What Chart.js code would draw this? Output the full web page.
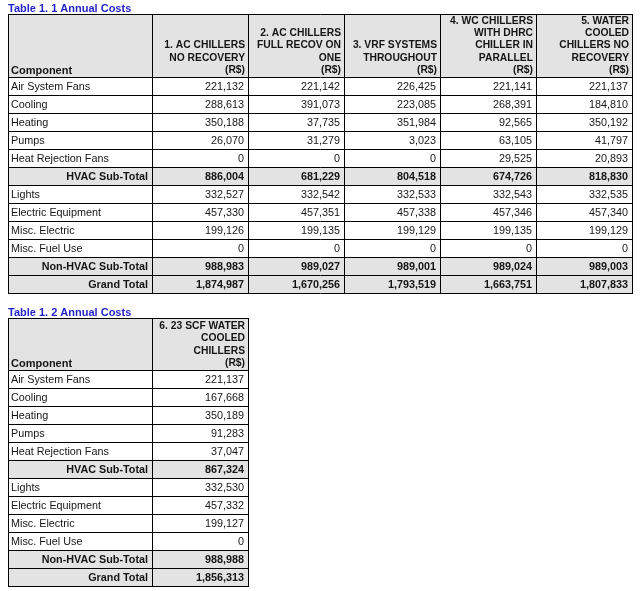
<!DOCTYPE html>
<html><head><meta charset="utf-8">
<script src="https://cdn.jsdelivr.net/npm/chart.js@4.4.1/dist/chart.umd.min.js"></script>
<style>
html,body{margin:0;padding:0;background:#fff;width:640px;height:591px;overflow:hidden;}
#c1{position:absolute;left:0;top:0;}
#c2{position:absolute;left:0;top:304px;}
</style></head><body>
<canvas id="c1" width="640" height="300"></canvas>
<canvas id="c2" width="640" height="287"></canvas>
<script>
// ---------- data ----------
const components = ['Air System Fans','Cooling','Heating','Pumps','Heat Rejection Fans','HVAC Sub-Total',
  'Lights','Electric Equipment','Misc. Electric','Misc. Fuel Use','Non-HVAC Sub-Total','Grand Total'];
const totalRows = ['HVAC Sub-Total','Non-HVAC Sub-Total','Grand Total'];
const firstColHeader = 'Component';
const table1Title = 'Table 1. 1 Annual Costs';
const table2Title = 'Table 1. 2 Annual Costs';

const table1Headers = [
  ['1. AC CHILLERS','NO RECOVERY','(R$)'],
  ['2. AC CHILLERS','FULL RECOV ON','ONE','(R$)'],
  ['3. VRF SYSTEMS','THROUGHOUT','(R$)'],
  ['4. WC CHILLERS','WITH DHRC','CHILLER IN','PARALLEL','(R$)'],
  ['5. WATER','COOLED','CHILLERS NO','RECOVERY','(R$)']
];
const table2Headers = [
  ['6. 23 SCF WATER','COOLED','CHILLERS','(R$)']
];

const acChillersNoRecovery   = [221132, 288613, 350188, 26070, 0, 886004, 332527, 457330, 199126, 0, 988983, 1874987];
const acChillersFullRecov    = [221142, 391073, 37735, 31279, 0, 681229, 332542, 457351, 199135, 0, 989027, 1670256];
const vrfSystemsThroughout   = [226425, 223085, 351984, 3023, 0, 804518, 332533, 457338, 199129, 0, 989001, 1793519];
const wcChillersDhrc         = [221141, 268391, 92565, 63105, 29525, 674726, 332543, 457346, 199135, 0, 989024, 1663751];
const waterCooledNoRecovery  = [221137, 184810, 350192, 41797, 20893, 818830, 332535, 457340, 199129, 0, 989003, 1807833];
const scfWaterCooledChillers = [221137, 167668, 350189, 91283, 37047, 867324, 332530, 457332, 199127, 0, 988988, 1856313];

// ---------- styles ----------
const FONT = '"Liberation Sans", Arial, sans-serif';
const FILL = '#e3e3e3';
const LINE = '#000000';
const TEXT = '#151515';
const TITLE_COLOR = '#2424c8';
const BODY_SIZE = '10.8px ';
const HEAD_SIZE = '10.3px ';

const fmt = v => v.toLocaleString('en-US');

const tablePlugin = {
  id: 'tableCells',
  afterDraw(chart, args, opts) {
    const ctx = chart.ctx;
    const xs = chart.scales.x, ys = chart.scales.y;
    const colLabels = xs.getLabels(), rowLabels = ys.getLabels();
    const nCols = colLabels.length, nRows = rowLabels.length;
    const L = ys.left, R = xs.right, T = xs.top, H = xs.bottom, B = ys.bottom;
    const colEdge = i => xs.getPixelForValue(i - 0.5);
    const rowEdge = j => ys.getPixelForValue(j - 0.5);
    const crisp = v => Math.round(v) + 0.5;
    ctx.save();
    // fills
    ctx.fillStyle = FILL;
    ctx.fillRect(L, T, R - L, H - T);
    rowLabels.forEach((lab, j) => {
      if (totalRows.includes(lab)) ctx.fillRect(L, rowEdge(j), R - L, rowEdge(j + 1) - rowEdge(j));
    });
    // lines
    ctx.strokeStyle = LINE;
    ctx.lineWidth = 1;
    ctx.beginPath();
    const hy = [T];
    for (let j = 0; j <= nRows; j++) hy.push(rowEdge(j));
    hy.forEach(v => { ctx.moveTo(L, crisp(v)); ctx.lineTo(R + 1, crisp(v)); });
    const vx = [L];
    for (let i = 0; i <= nCols; i++) vx.push(colEdge(i));
    vx.forEach(v => { ctx.moveTo(crisp(v), T); ctx.lineTo(crisp(v), B + 1); });
    ctx.stroke();
    // header text
    ctx.fillStyle = TEXT;
    ctx.font = 'bold 11px ' + FONT;
    ctx.textBaseline = 'alphabetic';
    ctx.textAlign = 'left';
    ctx.fillText(firstColHeader, L + 3, H - 3);
    ctx.font = 'bold ' + HEAD_SIZE + FONT;
    ctx.textAlign = 'right';
    opts.headers.forEach((lines, i) => {
      const xr = colEdge(i + 1) - 3;
      const n = lines.length;
      lines.forEach((t, k) => {
        ctx.fillText(t, xr, H - 4 - (n - 1 - k) * 12.3);
      });
    });
    // row labels
    ctx.textBaseline = 'middle';
    rowLabels.forEach((lab, j) => {
      const yc = Math.round(ys.getPixelForValue(j)) + 1;
      if (totalRows.includes(lab)) {
        ctx.font = 'bold ' + BODY_SIZE + FONT; ctx.textAlign = 'right';
        ctx.fillText(lab, ys.right - 4, yc);
      } else {
        ctx.font = BODY_SIZE + FONT; ctx.textAlign = 'left';
        ctx.fillText(lab, L + 3, yc);
      }
    });
    // values from dataset elements
    ctx.textAlign = 'right';
    chart.data.datasets.forEach((ds, d) => {
      const meta = chart.getDatasetMeta(d);
      const half = (colEdge(d + 1) - colEdge(d)) / 2;
      meta.data.forEach((el, j) => {
        const bold = totalRows.includes(rowLabels[j]);
        ctx.font = (bold ? 'bold ' : '') + BODY_SIZE + FONT;
        ctx.fillText(fmt(ds.data[j].v), el.x + half - 4, Math.round(el.y) + 1);
      });
    });
    ctx.restore();
  }
};

function makeTable(canvas, title, headers, seriesList, headerHeight, padding) {
  const keys = headers.map(h => h.join(' '));
  return new Chart(canvas, {
    type: 'scatter',
    data: {
      datasets: seriesList.map((vals, i) => ({
        label: keys[i],
        data: components.map((c, j) => ({ x: keys[i], y: c, v: vals[j] })),
        pointRadius: 0, pointHoverRadius: 0, showLine: false
      }))
    },
    options: {
      responsive: false, animation: false, events: [],
      layout: { padding },
      plugins: {
        legend: { display: false },
        tooltip: { enabled: false },
        title: {
          display: true, text: title, align: 'start', color: TITLE_COLOR,
          font: { family: FONT, size: 11, weight: 'bold', lineHeight: 1 },
          padding: { top: 3, bottom: 0 }
        },
        tableCells: { headers }
      },
      scales: {
        x: {
          type: 'category', labels: keys, position: 'top', offset: true,
          grid: { display: false }, border: { display: false }, ticks: { display: false },
          afterFit: s => { s.height = headerHeight; }
        },
        y: {
          type: 'category', labels: components, offset: true,
          grid: { display: false }, border: { display: false }, ticks: { display: false },
          afterFit: s => { s.width = 144; }
        }
      }
    },
    plugins: [tablePlugin]
  });
}

makeTable(document.getElementById('c1'), table1Title, table1Headers,
  [acChillersNoRecovery, acChillersFullRecov, vrfSystemsThroughout, wcChillersDhrc, waterCooledNoRecovery],
  63, { left: 8, right: 8, top: 0, bottom: 7 });
makeTable(document.getElementById('c2'), table2Title, table2Headers,
  [scfWaterCooledChillers],
  52, { left: 8, right: 392, top: 0, bottom: 5 });
</script>
</body></html>
